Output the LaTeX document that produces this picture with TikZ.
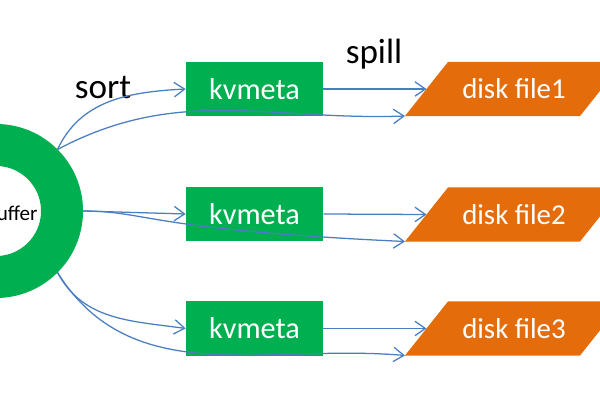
\documentclass[tikz,border=0pt]{standalone}
\usepackage{fontspec}
\setmainfont{Carlito}
\usepackage{tikz}
\usetikzlibrary{arrows.meta,positioning,calc,backgrounds}

\definecolor{ringgreen}{RGB}{0,176,80}
\definecolor{diskorange}{RGB}{228,108,10}
\definecolor{lineblue}{RGB}{74,126,193}

\begin{document}
\begin{tikzpicture}[
	x=0.025cm, y=0.025cm,
	ring/.style={circle, draw=ringgreen, line width=1.05cm, minimum size=3.3cm, inner sep=0pt, outer sep=0.525cm},
	kvbox/.style={rectangle, fill=ringgreen, text=white, minimum width=3.425cm, minimum height=1.35cm, inner sep=0pt, font=\fontsize{21.5}{25}\selectfont},
	disk/.style={rectangle, text=white, minimum width=4.375cm, minimum height=1.35cm, inner sep=0pt, outer sep=0pt, font=\fontsize{20.5}{24}\selectfont},
	lbl/.style={font=\fontsize{25}{30}\selectfont},
	arr/.style={-{Straight Barb[length=2.6mm,width=3.6mm]}, draw=lineblue, line width=0.9pt}
]
\useasboundingbox (0,0) rectangle (600,-400);

\node[ring, label={[xshift=0.39cm, yshift=-0.05cm, font=\fontsize{15}{18}\selectfont]center:buffer}] (ring) at (-4,-211) {};

\node[kvbox] (kv1) at (254.5,-89) {kvmeta};
\node[kvbox] (kv2) at (254.5,-214) {kvmeta};
\node[kvbox] (kv3) at (254.5,-328.5) {kvmeta};

\node[disk] (disk1) at (514,-89) {disk file1};
\node[disk] (disk2) at (514,-214.5) {disk file2};
\node[disk] (disk3) at (514,-328.5) {disk file3};

% slanted bodies of the disk files, behind the text
\begin{scope}[on background layer]
\foreach \n in {disk1,disk2,disk3} {
	\coordinate (\n-bl) at ($(\n.south west)+(-21.5,0)$);
	\fill[diskorange] (\n-bl) -- ($(\n.south east)+(-21.5,0)$) -- ($(\n.north east)+(21.5,0)$) -- ($(\n.north west)+(21.5,0)$) -- cycle;
}
\end{scope}

\node[lbl] (sort) at (103,-88) {sort};
\node[lbl] (spill) at (374,-54) {spill};

% sort: ring -> kvmeta
\draw[arr] (ring.45) to[out=65, in=183] (kv1.west);
\draw[arr] (ring.east) -- (kv2.west);
\draw[arr] (ring.-45) to[out=-62, in=172] (kv3.west);
% direct lines to the disk files
\draw[arr] (ring.45) to[out=28, in=182] (disk1-bl);
\draw[arr] (ring.east) .. controls +(65,0) and +(-260,12) .. (disk2-bl);
\draw[arr] (ring.-45) to[out=-58, in=175] (disk3-bl);
% spill: kvmeta -> disk file
\draw[arr] (kv1.east) -- (disk1.west);
\draw[arr] (kv2.east) -- (disk2.west);
\draw[arr] (kv3.east) -- (disk3.west);
\end{tikzpicture}
\end{document}
